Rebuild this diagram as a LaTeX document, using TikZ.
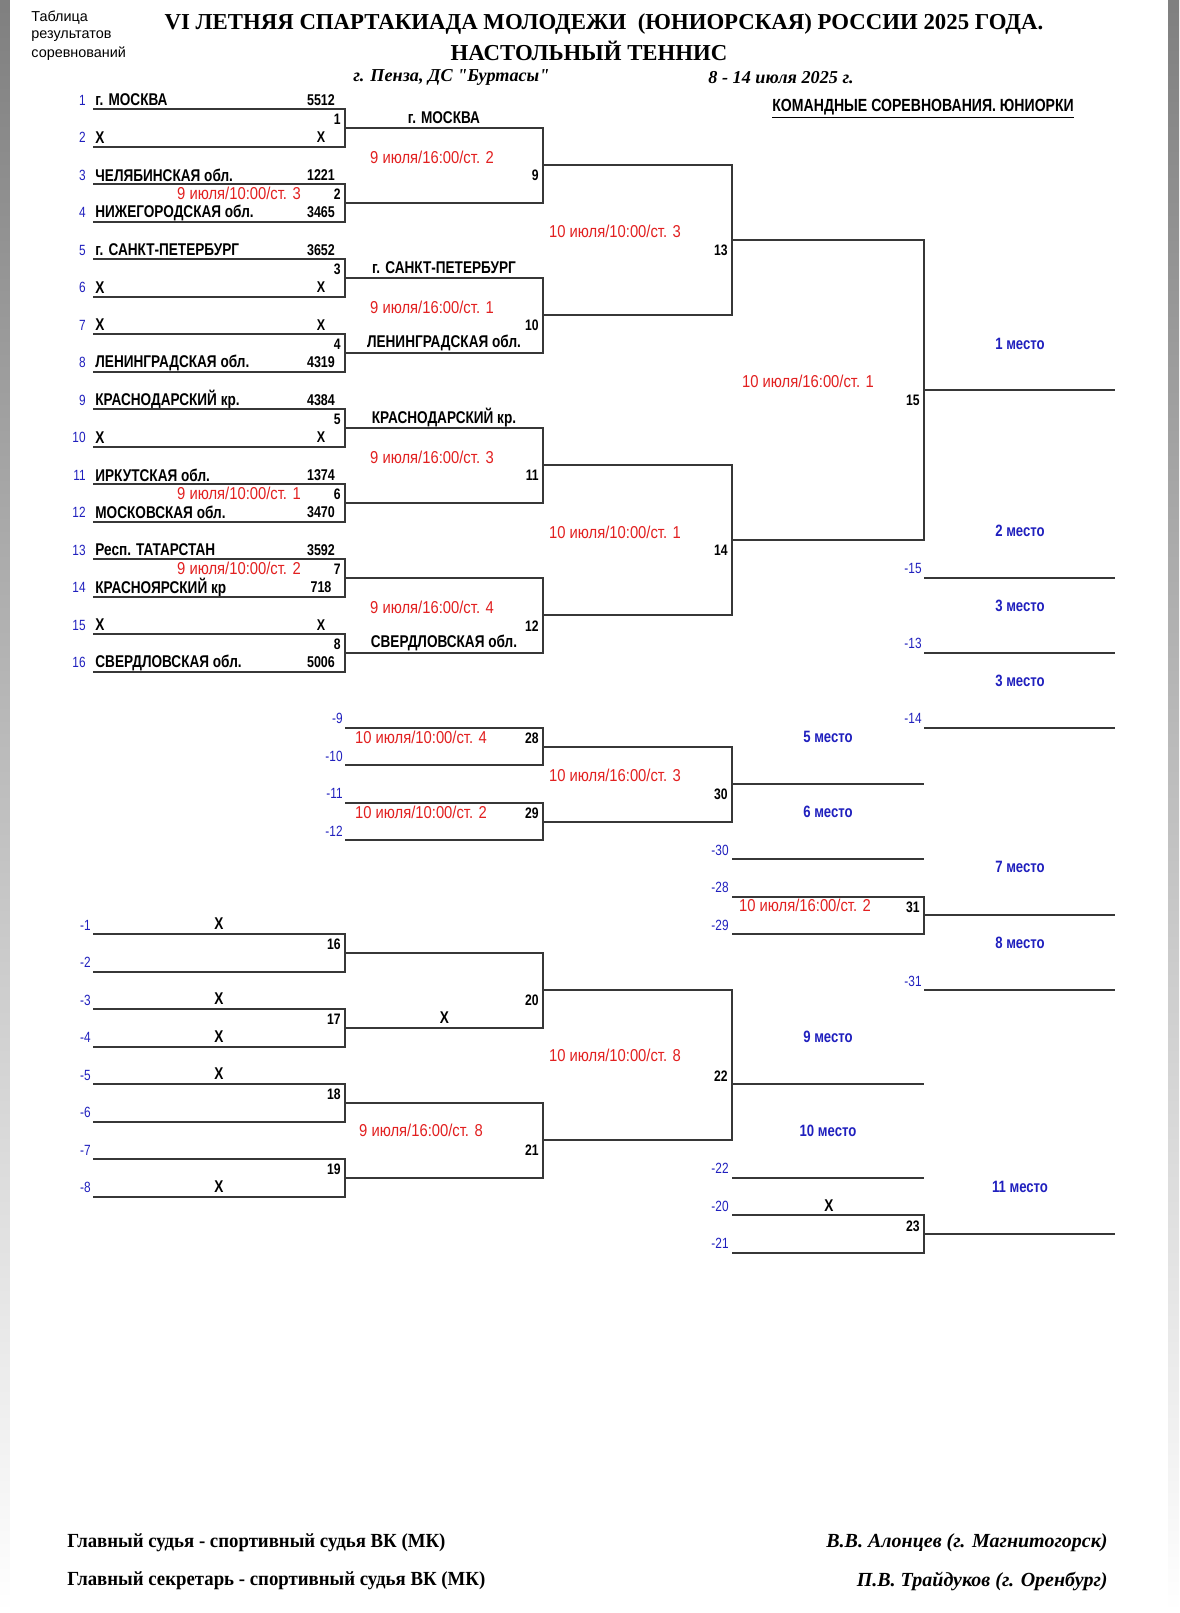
\documentclass[tikz,border=0pt]{standalone}
\usepackage{fontspec}
\setmainfont{Liberation Serif}
\newfontfamily\narrowsans[FakeStretch=0.8]{Liberation Sans}
\newfontfamily\datesans[FakeStretch=0.86]{Liberation Sans}
\newfontfamily\plainsans{Liberation Sans}
\newfontfamily\narrowserif[FakeStretch=0.94]{Liberation Serif}
\newfontfamily\quoteserif[Ligatures=TeXOff]{Liberation Serif}
\definecolor{datered}{RGB}{226,32,32}
\definecolor{placeblue}{RGB}{32,32,190}
\definecolor{wiregray}{RGB}{55,55,55}
\definecolor{shade}{RGB}{236,236,240}
\tikzset{
  wire/.style={wiregray, line width=1pt},
  team/.style={anchor=west, inner sep=0pt, font=\narrowsans\bfseries\fontsize{8.5}{9}\selectfont},
  score/.style={inner sep=0pt, font=\narrowsans\bfseries\fontsize{7.8}{8}\selectfont},
  seed/.style={anchor=east, inner sep=0pt, text=placeblue, font=\narrowsans\fontsize{7.4}{8}\selectfont},
  mnum/.style={anchor=east, inner sep=0pt, font=\narrowsans\bfseries\fontsize{7.6}{8}\selectfont},
  winner/.style={inner sep=0pt, font=\narrowsans\bfseries\fontsize{8.5}{9}\selectfont},
  datelbl/.style={inner sep=0pt, text=datered, font=\datesans\fontsize{8.6}{9}\selectfont},
  place/.style={inner sep=0pt, text=placeblue, font=\narrowsans\bfseries\fontsize{8.2}{9}\selectfont},
  ref/.style={anchor=east, inner sep=0pt, text=placeblue, font=\narrowsans\fontsize{7.4}{8}\selectfont},
  cross/.style={inner sep=0pt, font=\narrowsans\bfseries\fontsize{8.5}{9}\selectfont},
  footer/.style={inner sep=0pt, font=\narrowserif\bfseries\fontsize{10}{11}\selectfont}
}
\begin{document}
\begin{tikzpicture}[x=0.5pt, y=-0.5pt]
  \useasboundingbox (0,0) rectangle (1179,1613);
  \fill[shade] (0,0) rectangle (1179,1613);
  \fill[white] (10,0) rectangle (1168,1613);

  \node[anchor=west, inner sep=0pt, font=\plainsans\fontsize{7.2}{8}\selectfont] (hd1) at (31,17.5) {Таблица};
  \node[anchor=west, inner sep=0pt, font=\plainsans\fontsize{7.2}{8}\selectfont] (hd2) at (31,36) {результатов};
  \node[anchor=west, inner sep=0pt, font=\plainsans\fontsize{7.2}{8}\selectfont] (hd3) at (31,53.5) {соревнований};
  \node[inner sep=0pt, font=\bfseries\fontsize{11.4}{12}\selectfont] (title1) at (604,24) {VI ЛЕТНЯЯ СПАРТАКИАДА МОЛОДЕЖИ\ \ (ЮНИОРСКАЯ) РОССИИ 2025 ГОДА.};
  \node[inner sep=0pt, font=\bfseries\fontsize{11.4}{12}\selectfont] (title2) at (589,50.5) {НАСТОЛЬНЫЙ ТЕННИС};
  \node[anchor=west, inner sep=0pt, font=\quoteserif\bfseries\itshape\fontsize{9.1}{10}\selectfont] (city) at (353,77.5) {г. Пенза, ДС "Буртасы"};
  \node[anchor=west, inner sep=0pt, font=\bfseries\itshape\fontsize{9.1}{10}\selectfont] (dates) at (708,77.5) {8 - 14 июля 2025 г.};
  \node[team, font=\narrowsans\bfseries\fontsize{8.8}{9}\selectfont] (event) at (772,109) {\underline{КОМАНДНЫЕ СОРЕВНОВАНИЯ. ЮНИОРКИ}};

  \foreach \i/\nm/\sc in {1/{г. МОСКВА}/5512, 2/X/X, 3/{ЧЕЛЯБИНСКАЯ обл.}/1221, 4/{НИЖЕГОРОДСКАЯ обл.}/3465,
      5/{г. САНКТ-ПЕТЕРБУРГ}/3652, 6/X/X, 7/X/X, 8/{ЛЕНИНГРАДСКАЯ обл.}/4319,
      9/{КРАСНОДАРСКИЙ кр.}/4384, 10/X/X, 11/{ИРКУТСКАЯ обл.}/1374, 12/{МОСКОВСКАЯ обл.}/3470,
      13/{Респ. ТАТАРСТАН}/3592, 14/{КРАСНОЯРСКИЙ кр}/718, 15/X/X, 16/{СВЕРДЛОВСКАЯ обл.}/5006}{
    \pgfmathsetmacro{\y}{109+37.5*(\i-1)}
    \node[seed] (n\i) at (86,\y-9) {\i};
    \node[team] (t\i) at (95,\y-9) {\nm};
    \node[score] (s\i) at (321,\y-9) {\sc};
  }
  \foreach \k in {1,...,8}{
    \pgfmathsetmacro{\y}{109+75*(\k-1)}
    \draw[wire] (93,\y) -- (345,\y) -- (345,\y+37.5) -- (93,\y+37.5);
    \node[mnum] (m\k) at (341,\y+10.5) {\k};
  }
  \foreach \j in {1,...,4}{
    \pgfmathsetmacro{\y}{127.75+150*(\j-1)}
    \pgfmathtruncatemacro{\m}{8+\j}
    \draw[wire] (345,\y) -- (543,\y) -- (543,\y+75) -- (345,\y+75);
    \node[mnum] (m\m) at (539,\y+48) {\m};
  }
  \foreach \j in {1,2}{
    \pgfmathsetmacro{\y}{165.25+300*(\j-1)}
    \pgfmathtruncatemacro{\m}{12+\j}
    \draw[wire] (543,\y) -- (732,\y) -- (732,\y+150) -- (543,\y+150);
    \node[mnum] (m\m) at (728,\y+85.25) {\m};
  }
  \draw[wire] (732,240.25) -- (924,240.25) -- (924,540.25) -- (732,540.25);
  \draw[wire] (924,390.25) -- (1115,390.25);
  \node[mnum] (m15) at (920,400.5) {15};

  \node[winner] (w1) at (444,118) {г. МОСКВА};
  \node[winner] (w3) at (444,268) {г. САНКТ-ПЕТЕРБУРГ};
  \node[winner] (w4) at (444,343) {ЛЕНИНГРАДСКАЯ обл.};
  \node[winner] (w5) at (444,418) {КРАСНОДАРСКИЙ кр.};
  \node[winner] (w8) at (444,643) {СВЕРДЛОВСКАЯ обл.};

  \node[datelbl] (d2) at (239,193) {9 июля/10:00/ст. 3};
  \node[datelbl] (d6) at (239,493.5) {9 июля/10:00/ст. 1};
  \node[datelbl] (d7) at (239,568.5) {9 июля/10:00/ст. 2};
  \node[datelbl] (d9) at (432,157.25) {9 июля/16:00/ст. 2};
  \node[datelbl] (d10) at (432,307.25) {9 июля/16:00/ст. 1};
  \node[datelbl] (d11) at (432,457.25) {9 июля/16:00/ст. 3};
  \node[datelbl] (d12) at (432,607.25) {9 июля/16:00/ст. 4};
  \node[datelbl] (d13) at (615,231.5) {10 июля/10:00/ст. 3};
  \node[datelbl] (d14) at (615,532) {10 июля/10:00/ст. 1};
  \node[datelbl] (d15) at (808,381.5) {10 июля/16:00/ст. 1};

  \node[place] (p1) at (1020,343.5) {1 место};
  \node[place] (p2) at (1020,531) {2 место};
  \node[place] (p3a) at (1020,606) {3 место};
  \node[place] (p3b) at (1020,681) {3 место};
  \foreach \r/\y in {15/577.75, 13/652.75, 14/727.75}{
    \draw[wire] (924,\y) -- (1115,\y);
    \node[ref] (r\r) at (922,\y-9) {-\r};
  }

  \foreach \k in {0,1}{
    \pgfmathsetmacro{\y}{727.75+75*\k}
    \pgfmathtruncatemacro{\m}{28+\k}
    \draw[wire] (345,\y) -- (543,\y) -- (543,\y+37.5) -- (345,\y+37.5);
    \node[mnum] (m\m) at (539,\y+10.5) {\m};
  }
  \foreach \r/\y in {9/727.75, 10/765.25, 11/802.75, 12/840.25}{
    \node[ref] (r\r) at (343,\y-9) {-\r};
  }
  \draw[wire] (543,746.5) -- (732,746.5) -- (732,821.5) -- (543,821.5);
  \draw[wire] (732,784) -- (924,784);
  \node[mnum] (m30) at (728,794.5) {30};
  \node[datelbl] (d28) at (421,737) {10 июля/10:00/ст. 4};
  \node[datelbl] (d29) at (421,812) {10 июля/10:00/ст. 2};
  \node[datelbl] (d30) at (615,775) {10 июля/16:00/ст. 3};
  \node[place] (p5) at (828,737) {5 место};
  \node[place] (p6) at (828,812) {6 место};
  \draw[wire] (732,859) -- (924,859);
  \node[ref] (r30) at (729,850) {-30};
  \draw[wire] (732,896.5) -- (924,896.5) -- (924,934) -- (732,934);
  \draw[wire] (924,915.25) -- (1115,915.25);
  \node[ref] (r28) at (729,887.5) {-28};
  \node[ref] (r29) at (729,925) {-29};
  \node[mnum] (m31) at (920,907) {31};
  \node[datelbl] (d31) at (805,905.5) {10 июля/16:00/ст. 2};
  \node[place] (p7) at (1020,867) {7 место};
  \node[place] (p8) at (1020,943) {8 место};
  \draw[wire] (924,990.25) -- (1115,990.25);
  \node[ref] (r31) at (922,981) {-31};

  \foreach \i in {1,...,8}{
    \pgfmathsetmacro{\y}{934+37.5*(\i-1)}
    \node[ref] (q\i) at (91,\y-9) {-\i};
  }
  \foreach \i in {1,3,4,5,8}{
    \pgfmathsetmacro{\y}{934+37.5*(\i-1)}
    \node[cross] (x\i) at (219,\y-10) {X};
  }
  \foreach \k in {1,...,4}{
    \pgfmathsetmacro{\y}{934+75*(\k-1)}
    \pgfmathtruncatemacro{\m}{15+\k}
    \draw[wire] (93,\y) -- (345,\y) -- (345,\y+37.5) -- (93,\y+37.5);
    \node[mnum] (m\m) at (341,\y+10) {\m};
  }
  \draw[wire] (345,952.75) -- (543,952.75) -- (543,1027.75) -- (345,1027.75);
  \draw[wire] (345,1102.75) -- (543,1102.75) -- (543,1177.75) -- (345,1177.75);
  \node[mnum] (m20) at (539,1000) {20};
  \node[mnum] (m21) at (539,1150) {21};
  \node[cross] (x17) at (444.5,1017.5) {X};
  \node[datelbl] (d21) at (421,1130) {9 июля/16:00/ст. 8};
  \draw[wire] (543,990.25) -- (732,990.25) -- (732,1140.25) -- (543,1140.25);
  \draw[wire] (732,1084) -- (924,1084);
  \node[mnum] (m22) at (728,1076) {22};
  \node[datelbl] (d22) at (615,1055.5) {10 июля/10:00/ст. 8};
  \node[place] (p9) at (828,1037) {9 место};
  \node[place] (p10) at (828,1131) {10 место};
  \draw[wire] (732,1177.75) -- (924,1177.75);
  \node[ref] (r22) at (729,1168.75) {-22};
  \draw[wire] (732,1215.25) -- (924,1215.25) -- (924,1252.75) -- (732,1252.75);
  \draw[wire] (924,1234) -- (1115,1234);
  \node[ref] (r20) at (729,1206) {-20};
  \node[ref] (r21) at (729,1243.75) {-21};
  \node[mnum] (m23) at (920,1226) {23};
  \node[cross] (x20) at (829,1206) {X};
  \node[place] (p11) at (1020,1187) {11 место};

  \node[footer, anchor=west] (judge) at (67,1543) {Главный судья - спортивный судья ВК (МК)};
  \node[footer, anchor=east, font=\bfseries\itshape\fontsize{10}{11}\selectfont] (judgenm) at (1108,1543) {В.В. Алонцев (г. Магнитогорск)};
  \node[footer, anchor=west] (secr) at (67,1581) {Главный секретарь - спортивный судья ВК (МК)};
  \node[footer, anchor=east, font=\bfseries\itshape\fontsize{10}{11}\selectfont] (secrnm) at (1108,1581) {П.В. Трайдуков (г. Оренбург)};
\end{tikzpicture}
\end{document}
